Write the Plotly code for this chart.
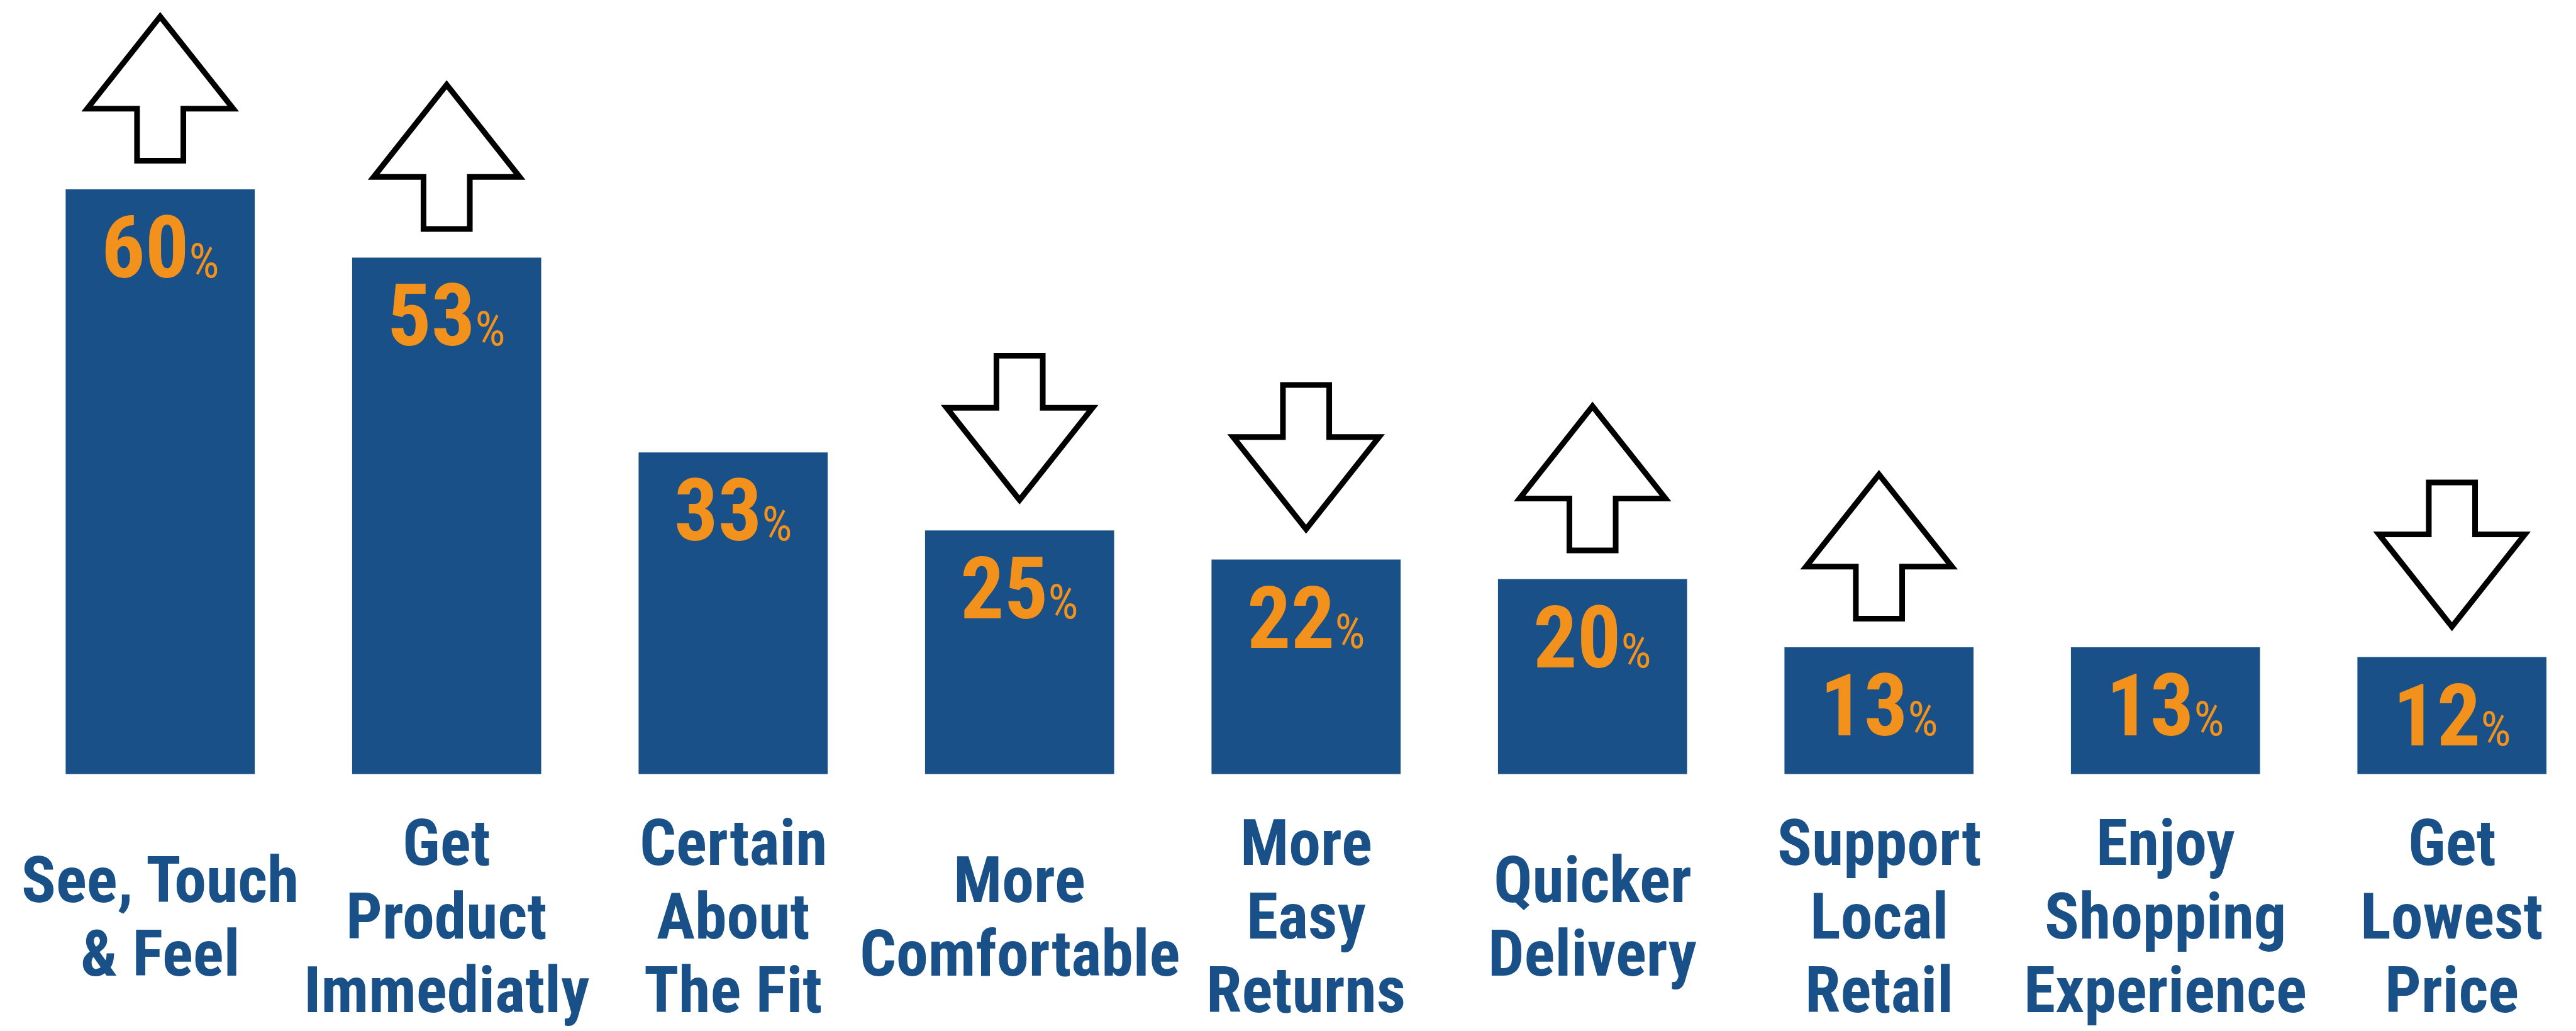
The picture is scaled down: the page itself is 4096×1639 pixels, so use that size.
import plotly.graph_objects as go

# ---- data -------------------------------------------------------------
categories = [
    "See, Touch<br>& Feel",
    "Get<br>Product<br>Immediatly",
    "Certain<br>About<br>The Fit",
    "More<br>Comfortable",
    "More<br>Easy<br>Returns",
    "Quicker<br>Delivery",
    "Support<br>Local<br>Retail",
    "Enjoy<br>Shopping<br>Experience",
    "Get<br>Lowest<br>Price",
]
values = [60, 53, 33, 25, 22, 20, 13, 13, 12]
trend = ["up", "up", None, "down", "down", "up", "up", None, "down"]

# ---- styling ----------------------------------------------------------
W, H = 4096, 1639
BLUE = "#195087"
ORANGE = "#F2911B"
FONT = "Roboto Condensed, Liberation Sans Narrow, Arial Narrow, sans-serif"

LABEL_SIZE = 102        # category labels
LABEL_STEP = 117        # baseline-to-baseline distance
LABEL_CENTER = 1492     # baseline of the middle line (pixels from top)
VALUE_SIZE = 138
PCT_SIZE = 76

# axis geometry: bars on integer positions, zero at the bar base line
X_RANGE = [-0.5592, 8.4331]
PX_PER_UNIT = 15.49
BASE_PX = 1230.4
Y_RANGE = [-(H - BASE_PX) / PX_PER_UNIT, BASE_PX / PX_PER_UNIT]

xs = list(range(len(values)))

fig = go.Figure(
    go.Bar(
        x=xs,
        y=values,
        width=0.66,
        marker=dict(color=BLUE, line=dict(width=0)),
        hoverinfo="skip",
    )
)

annotations = []

# value labels inside the bars: bold number, small regular percent sign
for x, v in zip(xs, values):
    annotations.append(
        dict(
            x=x, y=v, xref="x", yref="y",
            text=f"<b>{v}</b><span style='font-size:{PCT_SIZE}px'>%</span>",
            showarrow=False,
            xanchor="center", yanchor="middle",
            yshift=-93,
            font=dict(family=FONT, size=VALUE_SIZE, color=ORANGE),
        )
    )

# category labels, one annotation per line so the line spacing stays tight
for x, cat in zip(xs, categories):
    lines = cat.split("<br>")
    n = len(lines)
    for j, line in enumerate(lines):
        baseline = LABEL_CENTER + (j - (n - 1) / 2) * LABEL_STEP
        mid = baseline - 0.342 * LABEL_SIZE
        annotations.append(
            dict(
                x=x, y=1 - mid / H, xref="x", yref="paper",
                text=f"<b>{line}</b>",
                showarrow=False,
                xanchor="center", yanchor="middle",
                borderpad=0,
                font=dict(family=FONT, size=LABEL_SIZE, color=BLUE),
            )
        )

# outlined block arrows above the bars (pixel offsets from the bar top)
UP_PATH = ("M -36.8,45.5 L -36.8,128.2 L -116,128.2 L 0,274.8 "
           "L 116,128.2 L 36.8,128.2 L 36.8,45.5 Z")
DOWN_PATH = ("M 0,48.3 L -116,194.9 L -36.8,194.9 L -36.8,277.6 "
             "L 36.8,277.6 L 36.8,194.9 L 116,194.9 Z")

shapes = []
for x, v, t in zip(xs, values, trend):
    if t is None:
        continue
    shapes.append(
        dict(
            type="path",
            xref="x", yref="y",
            xsizemode="pixel", ysizemode="pixel",
            xanchor=x, yanchor=v,
            path=UP_PATH if t == "up" else DOWN_PATH,
            fillcolor="white",
            line=dict(color="black", width=9),
            layer="above",
        )
    )

fig.update_layout(
    width=W, height=H,
    margin=dict(l=0, r=0, t=0, b=0, pad=0),
    paper_bgcolor="white",
    plot_bgcolor="white",
    showlegend=False,
    annotations=annotations,
    shapes=shapes,
    xaxis=dict(range=X_RANGE, visible=False, fixedrange=True),
    yaxis=dict(range=Y_RANGE, visible=False, fixedrange=True),
)

fig.write_html("out.html", config={"displayModeBar": False})
